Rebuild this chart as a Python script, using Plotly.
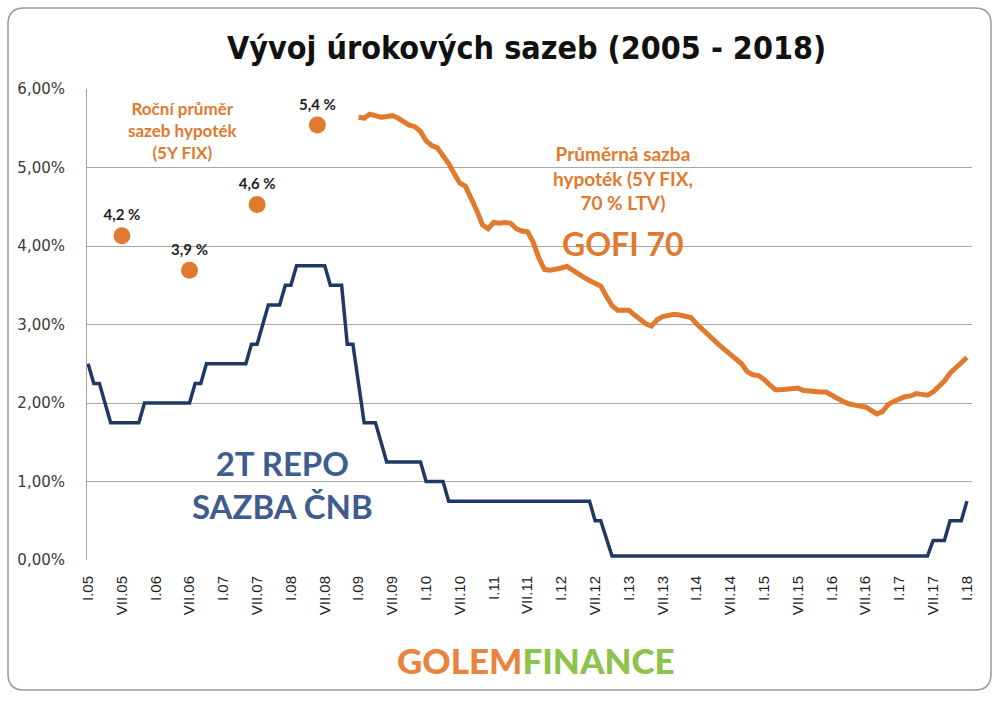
import plotly.graph_objects as go

# ---- data ----
tick_labels = ["I.05", "VII.05", "I.06", "VII.06", "I.07", "VII.07", "I.08", "VII.08",
               "I.09", "VII.09", "I.10", "VII.10", "I.11", "VII.11", "I.12", "VII.12",
               "I.13", "VII.13", "I.14", "VII.14", "I.15", "VII.15", "I.16", "VII.16",
               "I.17", "VII.17", "I.18"]
tick_months = [6 * i for i in range(len(tick_labels))]  # month index from I.05

# 2T repo rate CNB (%), month index -> value
repo_months = [0, 1, 2, 3, 4, 5, 6, 7, 8, 9, 10, 11, 12, 13, 14, 15, 16, 17, 18, 19, 20, 21,
               28, 29, 30, 31, 32, 33, 34, 35, 36, 37, 42, 43, 44, 45, 46, 47, 48, 49,
               50, 51, 52, 53, 59, 60, 61, 62, 63, 64, 89, 90, 91, 92, 93,
               149, 150, 151, 152, 153, 154, 155, 156]
repo_values = [2.50, 2.25, 2.25, 2.00, 1.75, 1.75, 1.75, 1.75, 1.75, 1.75, 2.00, 2.00, 2.00, 2.00, 2.00, 2.00, 2.00, 2.00, 2.00, 2.25, 2.25, 2.50,
               2.50, 2.75, 2.75, 3.00, 3.25, 3.25, 3.25, 3.50, 3.50, 3.75, 3.75, 3.50, 3.50, 3.50, 2.75, 2.75, 2.25, 1.75,
               1.75, 1.75, 1.50, 1.25, 1.25, 1.00, 1.00, 1.00, 1.00, 0.75, 0.75, 0.50, 0.50, 0.275, 0.05,
               0.05, 0.25, 0.25, 0.25, 0.50, 0.50, 0.50, 0.75]

# GOFI 70 average mortgage rate (%), monthly from I.09 (month 48)
gofi_start = 48
gofi_values = [5.64, 5.63, 5.68, 5.66, 5.64, 5.65, 5.66, 5.63, 5.58, 5.54, 5.52, 5.46,
               5.34, 5.28, 5.25, 5.15, 5.05, 4.92, 4.80, 4.76, 4.62, 4.45, 4.27, 4.22,
               4.30, 4.29, 4.30, 4.29, 4.22, 4.19, 4.18, 4.05, 3.85, 3.70, 3.69, 3.70,
               3.72, 3.74, 3.69, 3.64, 3.60, 3.56, 3.53, 3.49, 3.36, 3.24, 3.18, 3.18,
               3.18, 3.12, 3.06, 3.01, 2.98, 3.06, 3.10, 3.12, 3.13, 3.12, 3.11, 3.09,
               3.01, 2.94, 2.86, 2.80, 2.74, 2.68, 2.62, 2.58, 2.50, 2.40, 2.36, 2.35,
               2.30, 2.23, 2.17, 2.17, 2.18, 2.19, 2.19, 2.16, 2.15, 2.14, 2.14, 2.14,
               2.10, 2.05, 2.02, 1.99, 1.97, 1.96, 1.95, 1.91, 1.86, 1.89, 1.98, 2.02,
               2.05, 2.08, 2.09, 2.12, 2.11, 2.10, 2.14, 2.20, 2.28, 2.38, 2.45, 2.52,
               2.58]
gofi_months = [gofi_start + i for i in range(len(gofi_values))]

# Annual averages of 5Y FIX mortgage rates (dots)
avg_months = [6, 18, 30, 40.7]
avg_values = [4.13, 3.69, 4.53, 5.54]
avg_labels = ["4,2 %", "3,9 %", "4,6 %", "5,4 %"]

y_ticks = [0, 1, 2, 3, 4, 5, 6]
y_tick_text = ["0,00%", "1,00%", "2,00%", "3,00%", "4,00%", "5,00%", "6,00%"]

ORANGE = "#E07A2E"
NAVY = "#1F3864"
BLUE_TXT = "#3E5C8E"
GREEN = "#8DC24B"

fig = go.Figure()
fig.add_trace(go.Scatter(x=repo_months, y=repo_values, mode="lines",
                         line=dict(color=NAVY, width=3.5), hoverinfo="skip"))
fig.add_trace(go.Scatter(x=gofi_months, y=gofi_values, mode="lines",
                         line=dict(color=ORANGE, width=5), hoverinfo="skip"))
fig.add_trace(go.Scatter(x=avg_months, y=avg_values, mode="markers+text",
                         marker=dict(color=ORANGE, size=17),
                         text=avg_labels, textposition="top center",
                         textfont=dict(family="Lato", size=15, color="#222222", weight="bold"),
                         hoverinfo="skip"))

# plot area geometry in px
L, R, T, B = 87, 972, 89, 560
W, H = 1000, 702

def px(x):
    return (x - L) / (R - L)

def py(y):
    return (B - y) / (B - T)

fig.update_layout(
    width=W, height=H,
    margin=dict(l=L, r=W - R, t=T, b=H - B),
    paper_bgcolor="white", plot_bgcolor="white",
    showlegend=False,
    xaxis=dict(range=[-0.2, 156.9], tickvals=tick_months, ticktext=tick_labels,
               tickangle=-90, showgrid=False, zeroline=False,
               showline=False, ticks="", ticklabelstandoff=12,
               tickfont=dict(family="Liberation Sans", size=15, color="#222222")),
    yaxis=dict(range=[0, 6], tickvals=y_ticks, ticktext=y_tick_text,
               showgrid=True, gridcolor="#A6A6A6", gridwidth=1, zeroline=False,
               showline=True, linecolor="#A6A6A6", linewidth=1, ticks="",
               ticklabelstandoff=18,
               tickfont=dict(family="DejaVu Sans", size=15, color="#3A3A3A")),
)

# outer rounded border
x0, y0, x1, y1, r = px(8), py(8), px(991), py(690), 16
rx = r / (R - L)
ry = r / (B - T)
path = (f"M {x0+rx} {y0} L {x1-rx} {y0} Q {x1} {y0} {x1} {y0-ry} "
        f"L {x1} {y1+ry} Q {x1} {y1} {x1-rx} {y1} L {x0+rx} {y1} "
        f"Q {x0} {y1} {x0} {y1+ry} L {x0} {y0-ry} Q {x0} {y0} {x0+rx} {y0} Z")
fig.add_shape(type="path", path=path, xref="paper", yref="paper",
              line=dict(color="#9A9A9A", width=1.5), layer="below")

def ann(text, x, y, size, color, family="Lato", weight="bold"):
    fig.add_annotation(text=text, xref="paper", yref="paper", x=px(x), y=py(y),
                       xanchor="center", yanchor="middle", showarrow=False,
                       align="center",
                       font=dict(family=family, size=size, color=color, weight=weight))

ann("Vývoj úrokových sazeb (2005 - 2018)", 526, 48, 32, "#111111",
    family="DejaVu Sans Condensed")
ann("Roční průměr<br>sazeb hypoték<br>(5Y FIX)", 183, 130, 17, ORANGE)
ann("Průměrná sazba<br>hypoték (5Y FIX,<br>70 % LTV)", 623, 178, 19, ORANGE)
ann("GOFI 70", 623, 243, 32, ORANGE)
ann("2T REPO<br>SAZBA ČNB", 282, 484, 33, BLUE_TXT)
ann("GOLEM<span style='color:" + GREEN + "'>FINANCE</span>", 536, 660, 35, "#E8843E",
    weight=900)

fig.write_html("out.html", config={"displayModeBar": False},
               post_script="document.body.style.margin='0';")
